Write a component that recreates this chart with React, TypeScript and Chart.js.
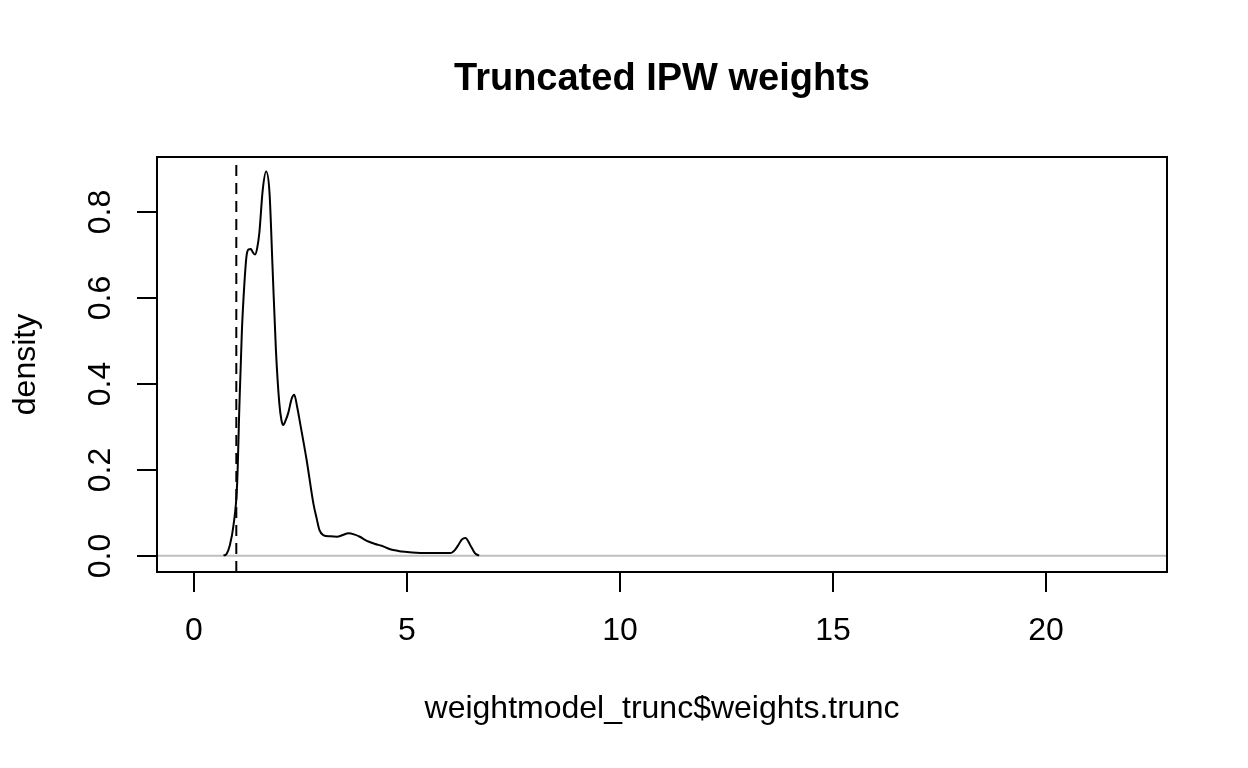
import React, { useEffect, useRef } from "react";
import { Chart, registerables } from "chart.js";

Chart.register(...registerables);

const densityX = [
  0.70, 0.77, 0.85, 0.93, 1.02, 1.07, 1.13, 1.19, 1.24, 1.29, 1.34, 1.39, 1.44, 1.49, 1.54,
  1.62, 1.70, 1.78, 1.85, 1.93, 2.01, 2.06, 2.10, 2.16, 2.22, 2.30, 2.36, 2.43, 2.50, 2.65,
  2.81, 2.89, 2.95, 3.04, 3.20, 3.36, 3.50, 3.63, 3.78, 3.90, 4.00, 4.10, 4.26, 4.41, 4.61,
  4.80, 4.96, 5.39, 6.02, 6.13, 6.22, 6.29, 6.38, 6.49, 6.60, 6.70,
];
const densityY = [
  0.000, 0.004, 0.025, 0.068, 0.168, 0.340, 0.520, 0.633, 0.697, 0.712, 0.713, 0.705, 0.700, 0.715, 0.750,
  0.850, 0.893, 0.843, 0.672, 0.478, 0.354, 0.315, 0.304, 0.315, 0.332, 0.365, 0.374, 0.345, 0.307, 0.223,
  0.121, 0.085, 0.060, 0.048, 0.045, 0.044, 0.048, 0.052, 0.049, 0.044, 0.038, 0.033, 0.027, 0.023, 0.015,
  0.011, 0.009, 0.006, 0.006, 0.013, 0.026, 0.037, 0.041, 0.025, 0.006, 0.000,
];
const truncLineX = 1;
const xTicks = [0, 5, 10, 15, 20];
const yTicks = [0, 0.2, 0.4, 0.6, 0.8];
const xRange = [-0.862, 22.85];
const yRange = [-0.038, 0.927];
const titleText = "Truncated IPW weights";
const xTitle = "weightmodel_trunc$weights.trunc";
const yTitle = "density";

const FONT = "'Liberation Sans', Arial, sans-serif";

const rAxesPlugin = {
  id: "rAxes",
  afterDraw(chart: any) {
    const { ctx, chartArea: a, scales } = chart;
    const x = scales.x;
    const y = scales.y;
    ctx.save();
    ctx.strokeStyle = "#000";
    ctx.fillStyle = "#000";
    ctx.lineWidth = 2;
    ctx.strokeRect(a.left, a.top, a.right - a.left, a.bottom - a.top);

    ctx.font = `32px ${FONT}`;
    ctx.textAlign = "center";
    ctx.textBaseline = "middle";
    xTicks.forEach((v) => {
      const px = Math.round(x.getPixelForValue(v));
      ctx.beginPath();
      ctx.moveTo(px, a.bottom);
      ctx.lineTo(px, a.bottom + 20);
      ctx.stroke();
      ctx.fillText(String(v), px, 631);
    });
    yTicks.forEach((v) => {
      const py = Math.round(y.getPixelForValue(v));
      ctx.beginPath();
      ctx.moveTo(a.left, py);
      ctx.lineTo(a.left - 20, py);
      ctx.stroke();
      ctx.save();
      ctx.translate(101, py);
      ctx.rotate(-Math.PI / 2);
      ctx.fillText(v.toFixed(1), 0, 0);
      ctx.restore();
    });

    ctx.fillText(xTitle, (a.left + a.right) / 2, 709);
    ctx.save();
    ctx.translate(26, (a.top + a.bottom) / 2);
    ctx.rotate(-Math.PI / 2);
    ctx.fillText(yTitle, 0, 0);
    ctx.restore();

    ctx.font = `bold 38px ${FONT}`;
    ctx.fillText(titleText, (a.left + a.right) / 2, 80);
    ctx.restore();
  },
};

export default function App() {
  const ref = useRef<HTMLCanvasElement | null>(null);
  useEffect(() => {
    if (!ref.current) return;
    const curve = densityX.map((vx, i) => ({ x: vx, y: densityY[i] }));
    const chart = new Chart(ref.current, {
      type: "line",
      data: {
        datasets: [
          {
            data: curve,
            borderColor: "#000",
            borderWidth: 2,
            pointRadius: 0,
            tension: 0.4,
            cubicInterpolationMode: "monotone",
            fill: false,
          },
          {
            data: [
              { x: truncLineX, y: yRange[0] },
              { x: truncLineX, y: yRange[1] },
            ],
            borderColor: "#000",
            borderWidth: 2,
            borderDash: [11, 7],
            pointRadius: 0,
            fill: false,
          },
          {
            data: [
              { x: xRange[0], y: 0 },
              { x: xRange[1], y: 0 },
            ],
            borderColor: "#BEBEBE",
            borderWidth: 2,
            pointRadius: 0,
            fill: false,
          },
        ],
      },
      options: {
        responsive: false,
        animation: false,
        events: [],
        layout: { padding: { left: 157, top: 157, right: 81, bottom: 196 } },
        plugins: { legend: { display: false }, tooltip: { enabled: false }, title: { display: false } },
        scales: {
          x: { type: "linear", min: xRange[0], max: xRange[1], display: false },
          y: { type: "linear", min: yRange[0], max: yRange[1], display: false },
        },
      },
      plugins: [rAxesPlugin],
    } as any);
    return () => chart.destroy();
  }, []);
  return (
    <div style={{ position: "absolute", left: 0, top: 0, width: 1248, height: 768, background: "#fff" }}>
      <canvas ref={ref} width={1248} height={768} style={{ display: "block" }} />
    </div>
  );
}
